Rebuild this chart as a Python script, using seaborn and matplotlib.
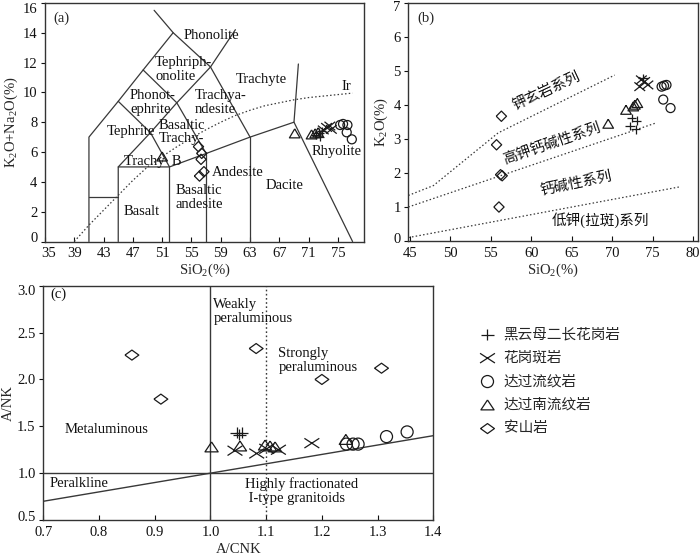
import matplotlib
matplotlib.use("Agg")
import numpy as np
import pandas as pd
import seaborn as sns
import matplotlib.pyplot as plt
from matplotlib.path import Path
from matplotlib.markers import MarkerStyle
from matplotlib.transforms import ScaledTranslation

sns.set_theme(style="white")
plt.rcParams["font.family"] = ["Liberation Serif", "Noto Sans CJK SC", "DejaVu Sans"]
plt.rcParams["mathtext.fontset"] = "custom"
plt.rcParams["mathtext.rm"] = "Liberation Serif"
plt.rcParams["mathtext.it"] = "Liberation Serif:italic"
plt.rcParams["axes.unicode_minus"] = False

# ------------------------------------------------------------------ data
series_names = ["黑云母二长花岗岩", "花岗斑岩", "达过流纹岩", "达过南流纹岩", "安山岩"]

# panel (a) TAS  (SiO2, K2O+Na2O)
a_plus_x = [72.0, 72.4, 72.8, 72.5]
a_plus_y = [7.15, 7.3, 7.4, 7.0]
a_cross_x = [73.0, 73.45, 73.9, 74.1]
a_cross_y = [7.48, 7.65, 7.74, 7.52]
a_circ_x = [75.3, 75.7, 76.3, 76.2, 76.9]
a_circ_y = [7.81, 7.88, 7.81, 7.32, 6.85]
a_tri_x = [51.0, 69.1, 71.4, 71.9, 72.3]
a_tri_y = [5.7, 7.25, 7.18, 7.25, 7.32]
a_dia_x = [55.95, 56.4, 56.3, 56.7, 56.1]
a_dia_y = [6.36, 5.91, 5.51, 4.68, 4.39]

# panel (b) SiO2 - K2O
b_plus_x = [72.4, 73.0, 72.2, 72.9, 73.8]
b_plus_y = [3.62, 3.54, 3.38, 3.28, 4.79]
b_cross_x = [73.6, 74.0, 74.4, 73.4]
b_cross_y = [4.74, 4.69, 4.59, 4.54]
b_circ_x = [76.1, 76.4, 76.7, 76.3, 77.2]
b_circ_y = [4.54, 4.57, 4.59, 4.16, 3.91]
b_tri_x = [69.5, 71.7, 72.6, 72.8, 73.1]
b_tri_y = [3.45, 3.86, 3.96, 4.01, 4.06]
b_dia_x = [56.3, 55.7, 56.2, 56.4, 56.0]
b_dia_y = [3.67, 2.83, 1.95, 1.92, 1.0]

# panel (c) A/CNK - A/NK
c_plus_x = [1.047, 1.056, 1.052]
c_plus_y = [1.43, 1.43, 1.41]
c_cross_x = [1.044, 1.083, 1.101, 1.122, 1.182]
c_cross_y = [1.24, 1.21, 1.26, 1.25, 1.32]
c_circ_x = [1.244, 1.256, 1.265, 1.316, 1.353]
c_circ_y = [1.31, 1.31, 1.31, 1.39, 1.44]
c_tri_x = [1.002, 1.053, 1.098, 1.107, 1.116, 1.243]
c_tri_y = [1.28, 1.29, 1.30, 1.29, 1.28, 1.36]
c_dia_x = [0.859, 0.911, 1.082, 1.2, 1.307]
c_dia_y = [2.26, 1.79, 2.33, 2.0, 2.12]

# TAS field boundaries (Le Bas et al.)
tas_lines = [
    ([41, 41, 45, 48.4, 52.5, 49.9], [0, 7, 9.4, 11.5, 14, 15.5]),
    ([41, 45], [3, 3]),
    ([45, 45, 52, 57, 63, 69, 77], [0, 5, 5, 5.9, 7, 8, 0]),
    ([52, 52], [0, 5]),
    ([57, 57], [0, 5.9]),
    ([63, 63], [0, 7]),
    ([69, 69.6], [8, 11.9]),
    ([45, 49.4, 53, 57.6, 61.0], [5, 7.3, 9.3, 11.7, 14.2]),
    ([45, 49.4, 52], [9.4, 7.3, 5]),
    ([48.4, 53, 57], [11.5, 9.3, 5.9]),
    ([52.5, 57.6, 63], [14, 11.7, 7]),
]
ir_x = [39, 41, 43, 45, 47, 49, 51, 53, 55, 57, 59, 61, 63, 65, 67, 69, 71, 73, 75, 77]
ir_y = [0, 1.1, 2.1, 3.1, 4.1, 5.0, 5.7, 6.35, 6.95, 7.5, 8.0, 8.45, 8.8, 9.1, 9.3, 9.5, 9.65, 9.75, 9.85, 9.95]

# SiO2-K2O series boundaries
b_shos_x = [44.8, 47.9, 55.9, 70.3]
b_shos_y = [1.34, 1.63, 3.18, 4.88]
b_hk_x = [44.8, 75.5]
b_hk_y = [1.0, 3.48]
b_lk_x = [44.8, 78.5]
b_lk_y = [0.1, 1.6]

# A/CNK - A/NK boundaries
c_diag_x = [0.7, 1.4]
c_diag_y = [0.7, 1.4]

# ------------------------------------------------------------------ markers
def pm(verts, codes=None):
    return MarkerStyle(Path(verts, codes))

MV, LT = Path.MOVETO, Path.LINETO
m_plus = pm([(-1, 0), (1, 0), (0, -0.9), (0, 0.9)], [MV, LT, MV, LT])
m_cross = pm([(-1, -0.8), (1, 0.8), (-1, 0.8), (1, -0.8)], [MV, LT, MV, LT])
m_cross_c = pm([(-1, -0.65), (1, 0.65), (-1, 0.65), (1, -0.65)], [MV, LT, MV, LT])
m_dia = pm([(-1, 0), (0, 1), (1, 0), (0, -1), (-1, 0)])
m_dia_c = pm([(-1, 0), (0, 0.72), (1, 0), (0, -0.72), (-1, 0)])
m_tri = pm([(0, 0.85), (-1, -0.85), (1, -0.85), (0, 0.85)])
m_tri_c = pm([(0, 0.75), (-1, -0.75), (1, -0.75), (0, 0.75)])

INK = "#1a1a1a"


def pts(ax, x, y, marker, s, label=None):
    sns.scatterplot(x=x, y=y, marker=marker, s=s, facecolor="none",
                    edgecolor=INK, linewidth=0.9, ax=ax, legend=False,
                    label=label, zorder=3)


def line(ax, x, y, dotted=False, lw=0.9, color="#383838"):
    kw = dict(linestyle=(0, (1.2, 1.8))) if dotted else {}
    sns.lineplot(x=x, y=y, sort=False, estimator=None, color=color, lw=lw,
                 ax=ax, legend=False, **kw)


def style_axes(ax):
    for sp in ax.spines.values():
        sp.set_color("#333333")
        sp.set_linewidth(1.0)
    ax.tick_params(axis="x", direction="in", length=3.5, width=0.8,
                   bottom=True, top=False, pad=4, labelsize=FS, colors="#111111")
    ax.tick_params(axis="y", direction="out", length=3, width=0.8,
                   left=True, right=False, pad=2.5, labelsize=FS, colors="#111111")
    ax.set_facecolor("white")


def nudge_edge_labels(ax, fig, dy_px=5, dx_first_px=0):
    """shift the extreme y tick labels inward like the reference."""
    ylabels = ax.get_yticklabels()
    if ylabels:
        ylabels[-1].set_transform(ylabels[-1].get_transform()
                                  + ScaledTranslation(0, -dy_px / 100, fig.dpi_scale_trans))
        ylabels[0].set_transform(ylabels[0].get_transform()
                                 + ScaledTranslation(0, dy_px / 100, fig.dpi_scale_trans))
    if dx_first_px:
        xl = ax.get_xticklabels()
        xl[0].set_transform(xl[0].get_transform()
                            + ScaledTranslation(dx_first_px / 100, 0, fig.dpi_scale_trans))


FS = 10.5

fig = plt.figure(figsize=(7, 5.57), dpi=100)
fig.patch.set_facecolor("white")

ax_a = fig.add_axes([0.0643, 0.5664, 0.4561, 0.4285])
ax_b = fig.add_axes([0.5833, 0.5673, 0.4139, 0.4273])
ax_c = fig.add_axes([0.0619, 0.0664, 0.5571, 0.4206])

# ------------------------------------------------------------------ panel (a)
for xs, ys in tas_lines:
    line(ax_a, xs, ys)
line(ax_a, ir_x, ir_y, dotted=True)

pts(ax_a, a_plus_x, a_plus_y, m_plus, 45)
pts(ax_a, a_cross_x, a_cross_y, m_cross, 60)
pts(ax_a, a_circ_x, a_circ_y, "o", 42)
pts(ax_a, a_tri_x, a_tri_y, m_tri, 58)
pts(ax_a, a_dia_x, a_dia_y, m_dia, 55)

a_labels = [
    (53.9, 13.84, "Phonolite"),
    (50.05, 11.53, "Tephriph-\nonolite"),
    (61.1, 10.83, "Trachyte"),
    (75.5, 10.42, "Ir"),
    (46.6, 9.32, "Phonot-\nephrite"),
    (55.5, 9.32, "Trachya-\nndesite"),
    (43.45, 7.37, "Tephrite"),
    (50.5, 7.34, "Basaltic\nTrachy-"),
    (45.8, 5.36, "Trachy  B"),
    (45.7, 2.0, "Basalt"),
    (52.8, 2.95, "Basaltic\nandesite"),
    (57.8, 4.61, "Andesite"),
    (65.1, 3.74, "Dacite"),
    (71.4, 6.02, "Rhyolite"),
]
for x, y, t in a_labels:
    ax_a.text(x, y, t, fontsize=FS, ha="left", va="center", linespacing=1.05,
              color="#111111")
ax_a.text(0.026, 0.965, "(a)", transform=ax_a.transAxes, fontsize=FS,
          ha="left", va="top")

ax_a.set_xlim(35, 78.6)
ax_a.set_ylim(0, 16)
ax_a.set_xticks([35, 39, 43, 47, 51, 55, 59, 63, 67, 71, 75])
ax_a.set_yticks(list(range(0, 17, 2)))
ax_a.set_xlabel(r"SiO$_2$(%)", fontsize=FS)
ax_a.set_ylabel(r"K$_2$O+Na$_2$O(%)", fontsize=FS)
style_axes(ax_a)
ax_a.xaxis.set_label_coords(0.5, -0.085)
ax_a.yaxis.set_label_coords(-0.078, 0.5)

# ------------------------------------------------------------------ panel (b)
line(ax_b, b_shos_x, b_shos_y, dotted=True)
line(ax_b, b_hk_x, b_hk_y, dotted=True)
line(ax_b, b_lk_x, b_lk_y, dotted=True)

pts(ax_b, b_plus_x, b_plus_y, m_plus, 45)
pts(ax_b, b_cross_x, b_cross_y, m_cross, 60)
pts(ax_b, b_circ_x, b_circ_y, "o", 42)
pts(ax_b, b_tri_x, b_tri_y, m_tri, 58)
pts(ax_b, b_dia_x, b_dia_y, m_dia, 55)

b_labels = [
    (61.9, 4.40, "钾玄岩系列", 25),
    (62.6, 2.86, "高钾钙碱性系列", 19),
    (65.6, 1.70, "钙碱性系列", 12),
    (68.5, 0.61, "低钾(拉斑)系列", 0),
]
for x, y, t, r in b_labels:
    ax_b.text(x, y, t, fontsize=FS, ha="center", va="center", rotation=r,
              rotation_mode="anchor", color="#111111")
ax_b.text(0.03, 0.965, "(b)", transform=ax_b.transAxes, fontsize=FS,
          ha="left", va="top")

ax_b.set_xlim(44.8, 80.6)
ax_b.set_ylim(0, 7)
ax_b.set_xticks(list(range(45, 81, 5)))
ax_b.set_yticks(list(range(0, 8)))
ax_b.set_xlabel(r"SiO$_2$(%)", fontsize=FS)
ax_b.set_ylabel(r"K$_2$O(%)", fontsize=FS)
style_axes(ax_b)
ax_b.xaxis.set_label_coords(0.5, -0.085)
ax_b.yaxis.set_label_coords(-0.062, 0.5)

# ------------------------------------------------------------------ panel (c)
line(ax_c, [1.0, 1.0], [0.5, 3.0], lw=1.0)
line(ax_c, [1.1, 1.1], [0.5, 3.0], dotted=True, lw=1.0)
line(ax_c, [0.7, 1.4], [1.0, 1.0], lw=1.0)
line(ax_c, c_diag_x, c_diag_y, lw=1.0)

pts(ax_c, c_plus_x, c_plus_y, m_plus, 80, label=series_names[0])
pts(ax_c, c_cross_x, c_cross_y, m_cross_c, 115, label=series_names[1])
pts(ax_c, c_circ_x, c_circ_y, "o", 75, label=series_names[2])
pts(ax_c, c_tri_x, c_tri_y, m_tri_c, 90, label=series_names[3])
pts(ax_c, c_dia_x, c_dia_y, m_dia_c, 100, label=series_names[4])

c_labels = [
    (0.712, 2.91, "(c)"),
    (1.005, 2.73, "Weakly\nperaluminous"),
    (1.122, 2.20, "Strongly\nperaluminous"),
    (0.739, 1.47, "Metaluminous"),
    (0.711, 0.89, "Peralkline"),
    (1.062, 0.805, "Highly fractionated\n I-type granitoids"),
]
for x, y, t in c_labels:
    ax_c.text(x, y, t, fontsize=FS, ha="left", va="center", linespacing=1.1,
              color="#111111")

ax_c.set_xlim(0.7, 1.4)
ax_c.set_ylim(0.5, 3.0)
ax_c.set_xticks(np.round(np.arange(0.7, 1.41, 0.1), 1))
ax_c.set_yticks(np.round(np.arange(0.5, 3.01, 0.5), 1))
ax_c.xaxis.set_major_formatter(matplotlib.ticker.FormatStrFormatter("%.1f"))
ax_c.yaxis.set_major_formatter(matplotlib.ticker.FormatStrFormatter("%.1f"))
ax_c.set_xlabel("A/CNK", fontsize=FS)
ax_c.set_ylabel("A/NK", fontsize=FS)
style_axes(ax_c)
ax_c.xaxis.set_label_coords(0.5, -0.10)
ax_c.yaxis.set_label_coords(-0.073, 0.5)

# edge tick labels sit slightly inside like the reference
nudge_edge_labels(ax_a, fig, dy_px=5, dx_first_px=4)
nudge_edge_labels(ax_b, fig, dy_px=3)
nudge_edge_labels(ax_c, fig, dy_px=4)

# ------------------------------------------------------------------ legend
handles, labels = ax_c.get_legend_handles_labels()
fig.legend(handles, labels, loc="upper left", bbox_to_anchor=(0.686, 0.411),
           frameon=False, fontsize=FS, handlelength=1.0, handletextpad=0.6,
           labelspacing=0.68, borderpad=0, borderaxespad=0, scatterpoints=1)

fig.savefig("out.png", dpi=100, facecolor="white")
